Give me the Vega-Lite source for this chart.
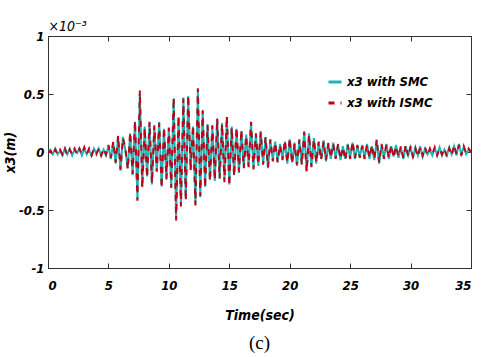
{
  "$schema": "https://vega.github.io/schema/vega-lite/v6.json",
  "width": 423,
  "height": 232,
  "autosize": "none",
  "padding": {"left": 48, "top": 36, "right": 11, "bottom": 89},
  "background": "white",
  "title": {"text": "(c)", "orient": "bottom", "font": "Liberation Serif", "fontSize": 19, "fontWeight": "normal", "color": "black", "offset": 12},
  "config": {
    "view": {"stroke": "#333333", "strokeWidth": 1},
    "axis": {"grid": false, "domain": false, "tickColor": "#333333", "tickSize": -5, "labelColor": "black", "labelFont": "Liberation Sans Narrow, DejaVu Sans Condensed, Liberation Sans, sans-serif", "labelFontSize": 13, "labelFontStyle": "italic", "labelFontWeight": "bold", "titleColor": "black", "titleFont": "Liberation Sans Narrow, DejaVu Sans Condensed, Liberation Sans, sans-serif", "titleFontSize": 14, "titleFontStyle": "italic", "titleFontWeight": "bold"},
    "legend": {"labelFont": "Liberation Sans Narrow, DejaVu Sans Condensed, Liberation Sans, sans-serif", "labelFontSize": 13, "labelFontStyle": "italic", "labelFontWeight": "bold", "labelColor": "black"}
  },
  "data": {"values": [
    {"t":0,"s":0,"i":0},{"t":0.2,"s":0.02,"i":0.01},{"t":0.4,"s":-0.02,"i":-0.03},{"t":0.6,"s":0.03,"i":0.02},{"t":0.8,"s":-0.02,"i":-0.02},
    {"t":1.0,"s":0.01,"i":0.02},{"t":1.2,"s":-0.03,"i":-0.02},{"t":1.4,"s":0.03,"i":0.03},{"t":1.6,"s":-0.02,"i":-0.03},{"t":1.8,"s":0.03,"i":0.02},
    {"t":2.0,"s":-0.03,"i":-0.02},{"t":2.2,"s":0.02,"i":0.03},{"t":2.4,"s":-0.01,"i":-0.02},{"t":2.6,"s":0.03,"i":0.03},{"t":2.8,"s":-0.03,"i":-0.02},
    {"t":3.0,"s":0.03,"i":0.04},{"t":3.2,"s":-0.02,"i":-0.02},{"t":3.4,"s":0.02,"i":0.03},{"t":3.6,"s":-0.03,"i":-0.03},{"t":3.8,"s":0.03,"i":0.02},
    {"t":4.0,"s":-0.01,"i":-0.02},{"t":4.2,"s":0.03,"i":0.03},{"t":4.4,"s":-0.03,"i":-0.03},{"t":4.6,"s":0.02,"i":0.03},{"t":4.8,"s":-0.03,"i":-0.02},
    {"t":5.0,"s":0.05,"i":0.06},{"t":5.2,"s":-0.06,"i":-0.05},{"t":5.4,"s":0.08,"i":0.09},{"t":5.6,"s":-0.10,"i":-0.09},{"t":5.8,"s":0.13,"i":0.14},
    {"t":6.0,"s":-0.16,"i":-0.15},{"t":6.2,"s":0.13,"i":0.12},{"t":6.4,"s":0.02,"i":0.03},{"t":6.6,"s":-0.14,"i":-0.15},{"t":6.8,"s":0.16,"i":0.17},
    {"t":7.0,"s":-0.20,"i":-0.19},{"t":7.2,"s":0.26,"i":0.27},{"t":7.4,"s":-0.41,"i":-0.42},{"t":7.6,"s":0.50,"i":0.53},{"t":7.8,"s":-0.30,"i":-0.31},
    {"t":8.0,"s":0.22,"i":0.21},{"t":8.2,"s":-0.21,"i":-0.22},{"t":8.4,"s":0.25,"i":0.26},{"t":8.6,"s":-0.28,"i":-0.27},{"t":8.8,"s":0.22,"i":0.23},
    {"t":9.0,"s":-0.16,"i":-0.17},{"t":9.2,"s":0.26,"i":0.25},{"t":9.4,"s":-0.30,"i":-0.31},{"t":9.6,"s":0.20,"i":0.21},{"t":9.8,"s":-0.24,"i":-0.23},
    {"t":10.0,"s":0.20,"i":0.21},{"t":10.2,"s":-0.30,"i":-0.31},{"t":10.4,"s":0.46,"i":0.47},{"t":10.6,"s":-0.57,"i":-0.59},{"t":10.8,"s":0.30,"i":0.31},
    {"t":11.0,"s":-0.46,"i":-0.47},{"t":11.2,"s":0.47,"i":0.46},{"t":11.4,"s":-0.40,"i":-0.42},{"t":11.6,"s":0.48,"i":0.49},{"t":11.8,"s":-0.15,"i":-0.16},
    {"t":12.0,"s":0.22,"i":0.23},{"t":12.2,"s":-0.45,"i":-0.46},{"t":12.4,"s":0.53,"i":0.55},{"t":12.6,"s":-0.39,"i":-0.38},{"t":12.8,"s":0.35,"i":0.36},
    {"t":13.0,"s":-0.30,"i":-0.31},{"t":13.2,"s":0.24,"i":0.23},{"t":13.4,"s":-0.24,"i":-0.25},{"t":13.6,"s":0.22,"i":0.23},{"t":13.8,"s":-0.25,"i":-0.24},
    {"t":14.0,"s":0.28,"i":0.29},{"t":14.2,"s":-0.22,"i":-0.23},{"t":14.4,"s":0.25,"i":0.24},{"t":14.6,"s":-0.24,"i":-0.26},{"t":14.8,"s":0.30,"i":0.31},
    {"t":15.0,"s":-0.28,"i":-0.29},{"t":15.2,"s":0.22,"i":0.21},{"t":15.4,"s":-0.20,"i":-0.21},{"t":15.6,"s":0.20,"i":0.21},{"t":15.8,"s":-0.18,"i":-0.17},
    {"t":16.0,"s":0.18,"i":0.19},{"t":16.2,"s":-0.13,"i":-0.14},{"t":16.4,"s":0.15,"i":0.14},{"t":16.6,"s":-0.12,"i":-0.13},{"t":16.8,"s":0.25,"i":0.26},
    {"t":17.0,"s":-0.14,"i":-0.15},{"t":17.2,"s":0.15,"i":0.16},{"t":17.4,"s":-0.12,"i":-0.11},{"t":17.6,"s":0.18,"i":0.17},{"t":17.8,"s":-0.10,"i":-0.11},
    {"t":18.0,"s":0.12,"i":0.13},{"t":18.2,"s":-0.14,"i":-0.13},{"t":18.4,"s":0.10,"i":0.11},{"t":18.6,"s":-0.07,"i":-0.08},{"t":18.8,"s":0.09,"i":0.08},
    {"t":19.0,"s":-0.08,"i":-0.09},{"t":19.2,"s":0.07,"i":0.06},{"t":19.4,"s":-0.06,"i":-0.07},{"t":19.6,"s":0.09,"i":0.10},{"t":19.8,"s":-0.10,"i":-0.09},
    {"t":20.0,"s":0.11,"i":0.12},{"t":20.2,"s":-0.09,"i":-0.10},{"t":20.4,"s":0.08,"i":0.07},{"t":20.6,"s":-0.12,"i":-0.11},{"t":20.8,"s":0.10,"i":0.11},
    {"t":21.0,"s":-0.10,"i":-0.11},{"t":21.2,"s":0.18,"i":0.17},{"t":21.4,"s":-0.16,"i":-0.17},{"t":21.6,"s":0.16,"i":0.15},{"t":21.8,"s":-0.12,"i":-0.13},
    {"t":22.0,"s":0.12,"i":0.11},{"t":22.2,"s":-0.10,"i":-0.09},{"t":22.4,"s":0.08,"i":0.09},{"t":22.6,"s":-0.06,"i":-0.07},{"t":22.8,"s":0.10,"i":0.09},
    {"t":23.0,"s":-0.08,"i":-0.07},{"t":23.2,"s":0.07,"i":0.08},{"t":23.4,"s":-0.06,"i":-0.05},{"t":23.6,"s":0.08,"i":0.07},{"t":23.8,"s":-0.05,"i":-0.06},
    {"t":24.0,"s":0.06,"i":0.07},{"t":24.2,"s":-0.07,"i":-0.06},{"t":24.4,"s":0.05,"i":0.04},{"t":24.6,"s":-0.06,"i":-0.07},{"t":24.8,"s":0.07,"i":0.06},
    {"t":25.0,"s":-0.05,"i":-0.06},{"t":25.2,"s":0.08,"i":0.09},{"t":25.4,"s":-0.06,"i":-0.05},{"t":25.6,"s":0.05,"i":0.06},{"t":25.8,"s":-0.04,"i":-0.05},
    {"t":26.0,"s":0.06,"i":0.05},{"t":26.2,"s":-0.05,"i":-0.06},{"t":26.4,"s":0.07,"i":0.06},{"t":26.6,"s":-0.06,"i":-0.05},{"t":26.8,"s":0.05,"i":0.06},
    {"t":27.0,"s":-0.07,"i":-0.06},{"t":27.2,"s":0.10,"i":0.11},{"t":27.4,"s":-0.10,"i":-0.09},{"t":27.6,"s":0.06,"i":0.07},{"t":27.8,"s":-0.05,"i":-0.06},
    {"t":28.0,"s":0.07,"i":0.06},{"t":28.2,"s":-0.06,"i":-0.05},{"t":28.4,"s":0.05,"i":0.06},{"t":28.6,"s":-0.04,"i":-0.05},{"t":28.8,"s":0.06,"i":0.05},
    {"t":29.0,"s":-0.05,"i":-0.04},{"t":29.2,"s":0.04,"i":0.05},{"t":29.4,"s":-0.06,"i":-0.05},{"t":29.6,"s":0.05,"i":0.06},{"t":29.8,"s":-0.03,"i":-0.04},
    {"t":30.0,"s":0.04,"i":0.05},{"t":30.2,"s":-0.05,"i":-0.04},{"t":30.4,"s":0.04,"i":0.03},{"t":30.6,"s":-0.03,"i":-0.04},{"t":30.8,"s":0.05,"i":0.04},
    {"t":31.0,"s":-0.04,"i":-0.03},{"t":31.2,"s":0.03,"i":0.04},{"t":31.4,"s":-0.02,"i":-0.03},{"t":31.6,"s":0.02,"i":0.03},{"t":31.8,"s":-0.03,"i":-0.02},
    {"t":32.0,"s":0.03,"i":0.04},{"t":32.2,"s":-0.02,"i":-0.03},{"t":32.4,"s":0.04,"i":0.03},{"t":32.6,"s":-0.03,"i":-0.02},{"t":32.8,"s":0.02,"i":0.03},
    {"t":33.0,"s":-0.03,"i":-0.04},{"t":33.2,"s":0.04,"i":0.03},{"t":33.4,"s":-0.02,"i":-0.03},{"t":33.6,"s":0.05,"i":0.06},{"t":33.8,"s":-0.03,"i":-0.02},
    {"t":34.0,"s":0.07,"i":0.06},{"t":34.2,"s":-0.02,"i":-0.03},{"t":34.4,"s":0.04,"i":0.05},{"t":34.6,"s":-0.02,"i":-0.01},{"t":34.8,"s":0.02,"i":0.03},
    {"t":35.0,"s":0,"i":0}
  ]},
  "layer": [
    {
      "mark": {"type": "line", "strokeWidth": 2, "clip": true},
      "encoding": {
        "x": {"field": "t", "type": "quantitative", "scale": {"domain": [0, 35], "nice": false},
              "axis": {"orient": "bottom", "values": [0,5,10,15,20,25,30,35], "title": "Time(sec)", "labelPadding": 16, "titlePadding": 16}},
        "y": {"field": "s", "type": "quantitative", "scale": {"domain": [-1, 1], "nice": false},
              "axis": {"orient": "left", "values": [-1,-0.5,0,0.5,1], "labelExpr": "'' + datum.value", "title": "x3(m)", "labelPadding": 9, "titlePadding": 1}},
        "color": {"datum": "x3 with SMC", "type": "nominal",
                  "scale": {"domain": ["x3 with SMC", "x3 with ISMC"], "range": ["#1fb3b3", "#c0001a"]},
                  "legend": {"title": null, "orient": "top-right", "offset": 38, "symbolType": "stroke", "symbolStrokeWidth": 3, "symbolSize": 169, "rowPadding": 6, "padding": 0, "labelOffset": 4}},
        "strokeDash": {"datum": "x3 with SMC", "type": "nominal",
                  "scale": {"domain": ["x3 with SMC", "x3 with ISMC"], "range": [[1, 0], [6, 6]]},
                  "legend": null}
      }
    },
    {
      "mark": {"type": "line", "strokeWidth": 2, "clip": true},
      "encoding": {
        "x": {"field": "t", "type": "quantitative",
              "axis": {"orient": "top", "values": [0,5,10,15,20,25,30,35], "labels": false, "title": "×10⁻³", "titleAnchor": "start", "titleAlign": "left", "titleFontWeight": "normal", "titlePadding": 2}},
        "y": {"field": "i", "type": "quantitative",
              "axis": {"orient": "right", "values": [-1,-0.5,0,0.5,1], "labels": false, "title": null}},
        "color": {"datum": "x3 with ISMC", "type": "nominal"},
        "strokeDash": {"datum": "x3 with ISMC", "type": "nominal"}
      }
    }
  ],
  "resolve": {"axis": {"x": "independent", "y": "independent"}}
}
